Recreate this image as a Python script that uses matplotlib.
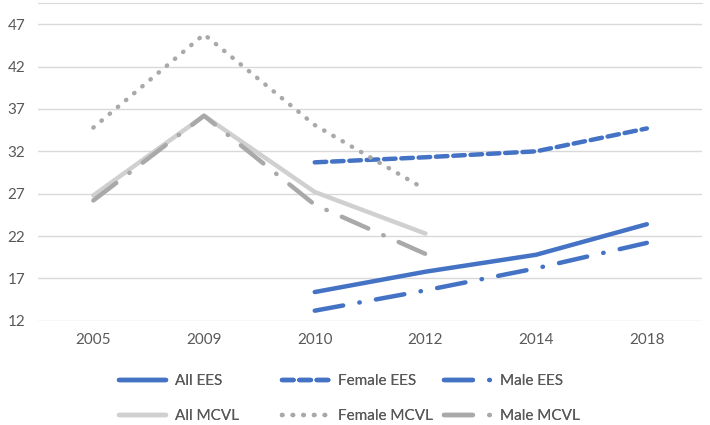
import numpy as np
import matplotlib.pyplot as plt

plt.rcParams['font.family'] = ['Lato', 'DejaVu Sans']

years = ['2005', '2009', '2010', '2012', '2014', '2018']
nan = np.nan

all_ees = [nan, nan, 15.4, 17.8, 19.8, 23.4]
female_ees = [nan, nan, 30.7, 31.3, 32.0, 34.7]
male_ees = [nan, nan, 13.2, 15.6, 18.2, 21.2]
all_mcvl = [26.8, 36.2, 27.2, 22.3, nan, nan]
female_mcvl = [34.8, 45.8, 35.1, 27.5, nan, nan]
male_mcvl = [26.2, 36.2, 25.7, 19.9, nan, nan]

blue = '#4472C4'
x = np.arange(len(years))

fig = plt.figure(figsize=(7.1, 4.25), dpi=100)
ax = fig.add_axes([0.0535, 0.245, 0.9355, 0.748])

lw = 3.2
h1, = ax.plot(x, all_ees, color=blue, lw=lw, solid_capstyle='round', label='All EES')
h2, = ax.plot(x, female_ees, color=blue, lw=lw, dashes=(2.6, 1.3),
              dash_capstyle='round', label='Female EES')
h3, = ax.plot(x, male_ees, color=blue, lw=lw, dashes=(6.5, 3.7, 0.1, 3.7),
              dash_capstyle='round', label='Male EES')
h4, = ax.plot(x, all_mcvl, color='#D0D0D0', lw=lw, solid_capstyle='round', label='All MCVL')
h5, = ax.plot(x, female_mcvl, color='#A9A9A9', lw=lw, dashes=(0.1, 2.3),
              dash_capstyle='round', label='Female MCVL')
h6, = ax.plot(x, male_mcvl, color='#A9A9A9', lw=lw, dashes=(6.5, 3.7, 0.1, 3.7),
              dash_capstyle='round', label='Male MCVL')

ax.set_xlim(-0.5, 5.5)
ax.set_ylim(12, 49.5)
ax.set_yticks(np.arange(12, 48, 5))
ax.set_xticks(x)
ax.set_xticklabels(years)
ax.grid(axis='y', color='#D9D9D9', lw=1)
ax.set_axisbelow(True)
for s in ['left', 'right', 'bottom']:
    ax.spines[s].set_visible(False)
ax.spines['top'].set_color('#D9D9D9')
ax.tick_params(length=0, labelsize=11, colors='#595959', pad=9)

# one legend per column so the columns sit where Excel puts them
cols = [(h1, h4), (h2, h5), (h3, h6)]
xs = [119, 282, 444]
for hs, xp in zip(cols, xs):
    leg = fig.legend(handles=list(hs), loc='upper left',
                     bbox_to_anchor=(xp / 710, 1 - 374 / 425),
                     frameon=False, fontsize=11, handlelength=3.1,
                     handletextpad=0.55, labelspacing=1.4, borderpad=0,
                     borderaxespad=0, labelcolor='#595959')
    fig.add_artist(leg)

fig.savefig('out.png', dpi=100)
